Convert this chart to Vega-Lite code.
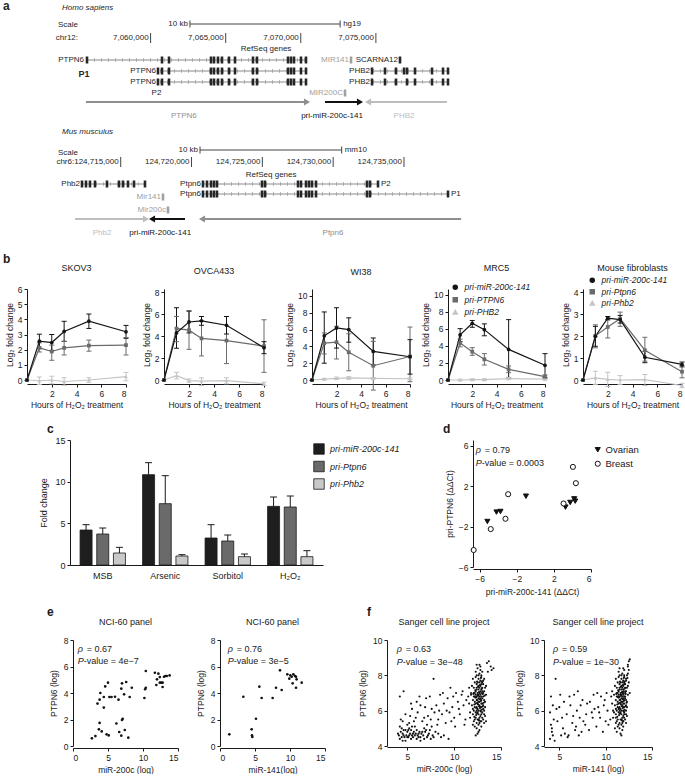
{
"$schema":"https://vega.github.io/schema/vega-lite/v6.json",
"padding":0,
"background":"white",
"config":{
 "font":"Liberation Sans",
 "view":{"stroke":null},
 "axis":{"domainColor":"#1a1a1a","tickColor":"#1a1a1a","labelColor":"#1a1a1a","titleColor":"#1a1a1a","labelFontSize":8.5,"titleFontSize":8.5,"titleFontWeight":"normal","tickSize":3,"labelPadding":2,"titlePadding":3,"grid":false,"domainWidth":1,"tickWidth":1,"labelFont":"Liberation Sans","titleFont":"Liberation Sans"},
 "title":{"font":"Liberation Sans","fontSize":9,"fontWeight":"normal","color":"#1a1a1a","offset":12},
 "legend":{"labelFont":"Liberation Sans","labelColor":"#1a1a1a"},
 "text":{"font":"Liberation Sans","fontSize":8,"color":"#1a1a1a"}
},
"datasets":{
 "hg_grid":[7055500,7056000,7056500,7057000,7057500,7058000,7058500,7059000,7059500,7060000,7060500,7061000,7061500,7062000,7062500,7063000,7063500,7064000,7064500,7065000,7065500,7066000,7066500,7067000,7067500,7068000,7068500,7069000,7069500,7070000,7070500,7071000,7071500,7072000,7072500,7073000,7073500,7074000,7074500,7075000,7075500,7076000,7076500,7077000,7077500,7078000,7078500,7079000,7079500],
 "mm_grid":[124712500,124713000,124713500,124714000,124714500,124715000,124715500,124716000,124716500,124717000,124717500,124718000,124718500,124719000,124719500,124720000,124720500,124721000,124721500,124722000,124722500,124723000,124723500,124724000,124724500,124725000,124725500,124726000,124726500,124727000,124727500,124728000,124728500,124729000,124729500,124730000,124730500,124731000,124731500,124732000,124732500,124733000,124733500,124734000,124734500,124735000,124735500,124736000,124736500,124737000,124737500,124738000,124738500,124739000],
 "hg_lines":[{"lane":4.0,"pos":7055766,"end":7070414},{"lane":5.1,"pos":7060626,"end":7070414},{"lane":6.2,"pos":7060626,"end":7070414},{"lane":5.1,"pos":7074809,"end":7079802},{"lane":6.2,"pos":7074809,"end":7079802}],
 "hg_exons":[
  {"lane":4.0,"pos":7055766,"cat":"gene"},
  {"lane":4.0,"pos":7060760,"cat":"gene"},{"lane":4.0,"pos":7061226,"cat":"gene"},{"lane":4.0,"pos":7064022,"cat":"gene"},{"lane":4.0,"pos":7064222,"cat":"gene"},{"lane":4.0,"pos":7064488,"cat":"gene"},{"lane":4.0,"pos":7064754,"cat":"gene"},{"lane":4.0,"pos":7065220,"cat":"gene"},{"lane":4.0,"pos":7065620,"cat":"gene"},{"lane":4.0,"pos":7066818,"cat":"gene"},{"lane":4.0,"pos":7067084,"cat":"gene"},{"lane":4.0,"pos":7069149,"cat":"gene"},{"lane":4.0,"pos":7069348,"cat":"gene"},{"lane":4.0,"pos":7069548,"cat":"gene"},{"lane":4.0,"pos":7070014,"cat":"gene"},{"lane":4.0,"pos":7070347,"cat":"gene"},
  {"lane":5.1,"pos":7060493,"cat":"gene"},{"lane":5.1,"pos":7060760,"cat":"gene"},{"lane":5.1,"pos":7061226,"cat":"gene"},{"lane":5.1,"pos":7064022,"cat":"gene"},{"lane":5.1,"pos":7064222,"cat":"gene"},{"lane":5.1,"pos":7064488,"cat":"gene"},{"lane":5.1,"pos":7064754,"cat":"gene"},{"lane":5.1,"pos":7065220,"cat":"gene"},{"lane":5.1,"pos":7065620,"cat":"gene"},{"lane":5.1,"pos":7066818,"cat":"gene"},{"lane":5.1,"pos":7067084,"cat":"gene"},{"lane":5.1,"pos":7069149,"cat":"gene"},{"lane":5.1,"pos":7069348,"cat":"gene"},{"lane":5.1,"pos":7069548,"cat":"gene"},{"lane":5.1,"pos":7070014,"cat":"gene"},{"lane":5.1,"pos":7070347,"cat":"gene"},
  {"lane":6.2,"pos":7060493,"cat":"gene"},{"lane":6.2,"pos":7060760,"cat":"gene"},{"lane":6.2,"pos":7061226,"cat":"gene"},{"lane":6.2,"pos":7064022,"cat":"gene"},{"lane":6.2,"pos":7064222,"cat":"gene"},{"lane":6.2,"pos":7064488,"cat":"gene"},{"lane":6.2,"pos":7064754,"cat":"gene"},{"lane":6.2,"pos":7065220,"cat":"gene"},{"lane":6.2,"pos":7065620,"cat":"gene"},{"lane":6.2,"pos":7066818,"cat":"gene"},{"lane":6.2,"pos":7067084,"cat":"gene"},{"lane":6.2,"pos":7069149,"cat":"gene"},{"lane":6.2,"pos":7069348,"cat":"gene"},{"lane":6.2,"pos":7069548,"cat":"gene"},{"lane":6.2,"pos":7070014,"cat":"gene"},{"lane":6.2,"pos":7070347,"cat":"gene"},
  {"lane":4.0,"pos":7073344,"cat":"mirna"},{"lane":7.3,"pos":7072944,"cat":"mirna"},{"lane":4.0,"pos":7076606,"cat":"gene"},
  {"lane":5.1,"pos":7074742,"cat":"gene"},{"lane":5.1,"pos":7075608,"cat":"gene"},{"lane":5.1,"pos":7076341,"cat":"gene"},{"lane":5.1,"pos":7076873,"cat":"gene"},{"lane":5.1,"pos":7077073,"cat":"gene"},{"lane":5.1,"pos":7077606,"cat":"gene"},{"lane":5.1,"pos":7078738,"cat":"gene"},{"lane":5.1,"pos":7079470,"cat":"gene"},{"lane":5.1,"pos":7079802,"cat":"gene"},
  {"lane":6.2,"pos":7074742,"cat":"gene"},{"lane":6.2,"pos":7075608,"cat":"gene"},{"lane":6.2,"pos":7076341,"cat":"gene"},{"lane":6.2,"pos":7077073,"cat":"gene"},{"lane":6.2,"pos":7077606,"cat":"gene"},{"lane":6.2,"pos":7078738,"cat":"gene"},{"lane":6.2,"pos":7079470,"cat":"gene"},{"lane":6.2,"pos":7079802,"cat":"gene"}
 ],
 "hg_scale":[{"lane":0.4,"pos":7062620,"end":7072620}],
 "hg_chr":[{"lane":1.8,"pos":7060000},{"lane":1.8,"pos":7065000},{"lane":1.8,"pos":7070000},{"lane":1.8,"pos":7075000}],
 "hg_arrows":[{"lane":8.2,"pos":7055700,"end":7070414,"cat":"host","dir":"right"},{"lane":8.2,"pos":7071612,"end":7073942,"cat":"primary","dir":"right"},{"lane":8.2,"pos":7079736,"end":7074476,"cat":"neighbor","dir":"left"}],
 "hg_text":[
  {"role":"panel","label":"a","pos":7050173,"lane":-1.4,"cat":"gene"},
  {"role":"species","label":"Homo sapiens","pos":7054102,"lane":-1.2,"cat":"gene"},
  {"role":"rulerR","label":"Scale","pos":7055300,"lane":0.5,"cat":"gene"},
  {"role":"rulerR","label":"chr12:","pos":7055300,"lane":1.8,"cat":"gene"},
  {"role":"rulerR","label":"10 kb","pos":7062620,"lane":0.4,"cat":"gene"},
  {"role":"rulerR","label":"7,060,000","pos":7060000,"lane":1.8,"cat":"gene"},
  {"role":"rulerR","label":"7,065,000","pos":7065000,"lane":1.8,"cat":"gene"},
  {"role":"rulerR","label":"7,070,000","pos":7070000,"lane":1.8,"cat":"gene"},
  {"role":"rulerR","label":"7,075,000","pos":7075000,"lane":1.8,"cat":"gene"},
  {"role":"rulerL","label":"hg19","pos":7072620,"lane":0.4,"cat":"gene"},
  {"role":"center","label":"RefSeq genes","pos":7067684,"lane":2.9,"cat":"gene"},
  {"role":"gene","label":"PTPN6","pos":7055700,"lane":4.0,"cat":"gene"},
  {"role":"gene","label":"PTPN6","pos":7060493,"lane":5.1,"cat":"gene"},
  {"role":"gene","label":"PTPN6","pos":7060493,"lane":6.2,"cat":"gene"},
  {"role":"gene","label":"MIR141","pos":7073344,"lane":4.0,"cat":"mirna"},
  {"role":"gene","label":"SCARNA12","pos":7076606,"lane":4.0,"cat":"gene"},
  {"role":"gene","label":"PHB2","pos":7074742,"lane":5.1,"cat":"gene"},
  {"role":"gene","label":"PHB2","pos":7074742,"lane":6.2,"cat":"gene"},
  {"role":"gene","label":"MIR200C","pos":7072944,"lane":7.3,"cat":"mirna"},
  {"role":"center","label":"PTPN6","pos":7062217,"lane":9.6,"cat":"host"},
  {"role":"center","label":"pri-miR-200c-141","pos":7072080,"lane":9.6,"cat":"primary"},
  {"role":"center","label":"PHB2","pos":7076872,"lane":9.6,"cat":"neighbor"},
  {"role":"promoter","label":"P1","pos":7055566,"lane":5.4,"cat":"gene"},
  {"role":"center","label":"P2","pos":7060393,"lane":7.3,"cat":"gene"}
 ],
 "mm_lines":[{"lane":16.4,"pos":124712268,"end":124716786},{"lane":16.4,"pos":124720810,"end":124733166},{"lane":17.4,"pos":124720810,"end":124738108}],
 "mm_exons":[
  {"lane":16.4,"pos":124712268,"cat":"gene"},{"lane":16.4,"pos":124712550,"cat":"gene"},{"lane":16.4,"pos":124712832,"cat":"gene"},{"lane":16.4,"pos":124713186,"cat":"gene"},{"lane":16.4,"pos":124714033,"cat":"gene"},{"lane":16.4,"pos":124714880,"cat":"gene"},{"lane":16.4,"pos":124715162,"cat":"gene"},{"lane":16.4,"pos":124715515,"cat":"gene"},{"lane":16.4,"pos":124715939,"cat":"gene"},{"lane":16.4,"pos":124716716,"cat":"gene"},
  {"lane":16.4,"pos":124720810,"cat":"gene"},{"lane":16.4,"pos":124721093,"cat":"gene"},{"lane":16.4,"pos":124721375,"cat":"gene"},{"lane":16.4,"pos":124721587,"cat":"gene"},{"lane":16.4,"pos":124721799,"cat":"gene"},{"lane":16.4,"pos":124724976,"cat":"gene"},{"lane":16.4,"pos":124725188,"cat":"gene"},{"lane":16.4,"pos":124727518,"cat":"gene"},{"lane":16.4,"pos":124727730,"cat":"gene"},{"lane":16.4,"pos":124728083,"cat":"gene"},{"lane":16.4,"pos":124728295,"cat":"gene"},{"lane":16.4,"pos":124728507,"cat":"gene"},{"lane":16.4,"pos":124728789,"cat":"gene"},{"lane":16.4,"pos":124732389,"cat":"gene"},{"lane":16.4,"pos":124732601,"cat":"gene"},{"lane":16.4,"pos":124733166,"cat":"gene"},
  {"lane":17.4,"pos":124720810,"cat":"gene"},{"lane":17.4,"pos":124721093,"cat":"gene"},{"lane":17.4,"pos":124721375,"cat":"gene"},{"lane":17.4,"pos":124721587,"cat":"gene"},{"lane":17.4,"pos":124721799,"cat":"gene"},{"lane":17.4,"pos":124724976,"cat":"gene"},{"lane":17.4,"pos":124725188,"cat":"gene"},{"lane":17.4,"pos":124727518,"cat":"gene"},{"lane":17.4,"pos":124727730,"cat":"gene"},{"lane":17.4,"pos":124728083,"cat":"gene"},{"lane":17.4,"pos":124728295,"cat":"gene"},{"lane":17.4,"pos":124728507,"cat":"gene"},{"lane":17.4,"pos":124728789,"cat":"gene"},{"lane":17.4,"pos":124732389,"cat":"gene"},{"lane":17.4,"pos":124732601,"cat":"gene"},{"lane":17.4,"pos":124738108,"cat":"gene"},
  {"lane":17.7,"pos":124717986,"cat":"mirna"},{"lane":19.0,"pos":124718339,"cat":"mirna"}
 ],
 "mm_scale":[{"lane":13.0,"pos":124720600,"end":124730600}],
 "mm_chr":[{"lane":14.2,"pos":124715000},{"lane":14.2,"pos":124720000},{"lane":14.2,"pos":124725000},{"lane":14.2,"pos":124730000},{"lane":14.2,"pos":124735000}],
 "mm_arrows":[{"lane":19.9,"pos":124711780,"end":124716786,"cat":"neighbor","dir":"right"},{"lane":19.9,"pos":124719540,"end":124717210,"cat":"primary","dir":"left"},{"lane":19.9,"pos":124739030,"end":124720740,"cat":"host","dir":"left"}],
 "mm_text":[
  {"role":"species","label":"Mus musculus","pos":124710856,"lane":11.2,"cat":"gene"},
  {"role":"rulerR","label":"Scale","pos":124712127,"lane":13.3,"cat":"gene"},
  {"role":"rulerR","label":"10 kb","pos":124720600,"lane":13.0,"cat":"gene"},
  {"role":"rulerR","label":"chr6:124,715,000","pos":124715000,"lane":14.2,"cat":"gene"},
  {"role":"rulerR","label":"124,720,000","pos":124720000,"lane":14.2,"cat":"gene"},
  {"role":"rulerR","label":"124,725,000","pos":124725000,"lane":14.2,"cat":"gene"},
  {"role":"rulerR","label":"124,730,000","pos":124730000,"lane":14.2,"cat":"gene"},
  {"role":"rulerR","label":"124,735,000","pos":124735000,"lane":14.2,"cat":"gene"},
  {"role":"rulerL","label":"mm10","pos":124730600,"lane":13.0,"cat":"gene"},
  {"role":"center","label":"RefSeq genes","pos":124725620,"lane":15.5,"cat":"gene"},
  {"role":"gene","label":"Phb2","pos":124712268,"lane":16.4,"cat":"gene"},
  {"role":"gene","label":"Mir141","pos":124717986,"lane":17.7,"cat":"mirna"},
  {"role":"gene","label":"Mir200c","pos":124718339,"lane":19.0,"cat":"mirna"},
  {"role":"gene","label":"Ptpn6","pos":124720810,"lane":16.4,"cat":"gene"},
  {"role":"gene","label":"Ptpn6","pos":124720810,"lane":17.4,"cat":"gene"},
  {"role":"rulerL","label":"P2","pos":124733166,"lane":16.4,"cat":"gene"},
  {"role":"rulerL","label":"P1","pos":124738108,"lane":17.4,"cat":"gene"},
  {"role":"center","label":"Phb2","pos":124713680,"lane":21.3,"cat":"neighbor"},
  {"role":"center","label":"pri-miR-200c-141","pos":124717790,"lane":21.3,"cat":"primary"},
  {"role":"center","label":"Ptpn6","pos":124729990,"lane":21.3,"cat":"host"}
 ],
 "bdata":[
  {"cell":"SKOV3","s":"pri-PHB2","t":0,"v":0},{"cell":"SKOV3","s":"pri-PHB2","t":1,"v":-0.05,"lo":-0.3,"hi":0.2},{"cell":"SKOV3","s":"pri-PHB2","t":2,"v":0.0,"lo":-0.25,"hi":0.25},{"cell":"SKOV3","s":"pri-PHB2","t":3,"v":-0.1,"lo":-0.35,"hi":0.15},{"cell":"SKOV3","s":"pri-PHB2","t":5,"v":0.0,"lo":-0.15,"hi":0.15},{"cell":"SKOV3","s":"pri-PHB2","t":8,"v":0.22,"lo":-0.05,"hi":0.5},
  {"cell":"SKOV3","s":"pri-PTPN6","t":0,"v":0},{"cell":"SKOV3","s":"pri-PTPN6","t":1,"v":2.12,"lo":1.85,"hi":2.45},{"cell":"SKOV3","s":"pri-PTPN6","t":2,"v":1.88,"lo":1.3,"hi":2.3},{"cell":"SKOV3","s":"pri-PTPN6","t":3,"v":2.12,"lo":1.65,"hi":2.55},{"cell":"SKOV3","s":"pri-PTPN6","t":5,"v":2.27,"lo":1.9,"hi":2.63},{"cell":"SKOV3","s":"pri-PTPN6","t":8,"v":2.3,"lo":1.65,"hi":2.8},
  {"cell":"SKOV3","s":"pri-miR-200c-141","t":0,"v":0},{"cell":"SKOV3","s":"pri-miR-200c-141","t":1,"v":2.56,"lo":2.1,"hi":3.02},{"cell":"SKOV3","s":"pri-miR-200c-141","t":2,"v":2.47,"lo":1.95,"hi":3.0},{"cell":"SKOV3","s":"pri-miR-200c-141","t":3,"v":3.2,"lo":2.55,"hi":3.87},{"cell":"SKOV3","s":"pri-miR-200c-141","t":5,"v":3.88,"lo":3.4,"hi":4.35},{"cell":"SKOV3","s":"pri-miR-200c-141","t":8,"v":3.18,"lo":2.75,"hi":3.6},
  {"cell":"OVCA433","s":"pri-PHB2","t":0,"v":0},{"cell":"OVCA433","s":"pri-PHB2","t":1,"v":0.4,"lo":0.1,"hi":0.7},{"cell":"OVCA433","s":"pri-PHB2","t":2,"v":-0.05,"lo":-0.2,"hi":0.1},{"cell":"OVCA433","s":"pri-PHB2","t":3,"v":-0.1,"lo":-0.5,"hi":0.2},{"cell":"OVCA433","s":"pri-PHB2","t":5,"v":-0.05,"lo":-0.35,"hi":0.2},{"cell":"OVCA433","s":"pri-PHB2","t":8,"v":-0.35,"lo":-0.5,"hi":-0.2},
  {"cell":"OVCA433","s":"pri-PTPN6","t":0,"v":0},{"cell":"OVCA433","s":"pri-PTPN6","t":1,"v":4.7,"lo":3.5,"hi":5.8},{"cell":"OVCA433","s":"pri-PTPN6","t":2,"v":4.55,"lo":2.8,"hi":6.3},{"cell":"OVCA433","s":"pri-PTPN6","t":3,"v":3.8,"lo":2.2,"hi":5.4},{"cell":"OVCA433","s":"pri-PTPN6","t":5,"v":3.6,"lo":1.5,"hi":5.8},{"cell":"OVCA433","s":"pri-PTPN6","t":8,"v":3.1,"lo":0.7,"hi":5.5},
  {"cell":"OVCA433","s":"pri-miR-200c-141","t":0,"v":0},{"cell":"OVCA433","s":"pri-miR-200c-141","t":1,"v":4.3,"lo":2.9,"hi":6.6},{"cell":"OVCA433","s":"pri-miR-200c-141","t":2,"v":5.3,"lo":4.3,"hi":6.3},{"cell":"OVCA433","s":"pri-miR-200c-141","t":3,"v":5.4,"lo":5.0,"hi":5.8},{"cell":"OVCA433","s":"pri-miR-200c-141","t":5,"v":5.0,"lo":4.2,"hi":5.8},{"cell":"OVCA433","s":"pri-miR-200c-141","t":8,"v":2.95,"lo":2.4,"hi":3.5},
  {"cell":"WI38","s":"pri-PHB2","t":0,"v":0},{"cell":"WI38","s":"pri-PHB2","t":1,"v":0.1,"lo":0.0,"hi":0.2},{"cell":"WI38","s":"pri-PHB2","t":2,"v":0.2,"lo":0.05,"hi":0.35},{"cell":"WI38","s":"pri-PHB2","t":3,"v":0.25,"lo":0.1,"hi":0.4},{"cell":"WI38","s":"pri-PHB2","t":5,"v":0.2,"lo":0.1,"hi":0.3},{"cell":"WI38","s":"pri-PHB2","t":8,"v":0.15,"lo":0.05,"hi":0.25},
  {"cell":"WI38","s":"pri-PTPN6","t":0,"v":0},{"cell":"WI38","s":"pri-PTPN6","t":1,"v":4.39,"lo":3.1,"hi":5.6},{"cell":"WI38","s":"pri-PTPN6","t":2,"v":4.5,"lo":2.5,"hi":6.4},{"cell":"WI38","s":"pri-PTPN6","t":3,"v":3.3,"lo":1.1,"hi":5.5},{"cell":"WI38","s":"pri-PTPN6","t":5,"v":1.7,"lo":-1.2,"hi":4.6},{"cell":"WI38","s":"pri-PTPN6","t":8,"v":2.8,"lo":-0.2,"hi":6.3},
  {"cell":"WI38","s":"pri-miR-200c-141","t":0,"v":0},{"cell":"WI38","s":"pri-miR-200c-141","t":1,"v":5.26,"lo":2.0,"hi":8.1},{"cell":"WI38","s":"pri-miR-200c-141","t":2,"v":6.2,"lo":3.8,"hi":8.6},{"cell":"WI38","s":"pri-miR-200c-141","t":3,"v":6.0,"lo":4.5,"hi":7.4},{"cell":"WI38","s":"pri-miR-200c-141","t":5,"v":3.4,"lo":1.8,"hi":5.0},{"cell":"WI38","s":"pri-miR-200c-141","t":8,"v":2.77,"lo":0.7,"hi":4.8},
  {"cell":"MRC5","s":"pri-PHB2","t":0,"v":0},{"cell":"MRC5","s":"pri-PHB2","t":1,"v":0.0,"lo":-0.1,"hi":0.1},{"cell":"MRC5","s":"pri-PHB2","t":2,"v":0.05,"lo":-0.05,"hi":0.15},{"cell":"MRC5","s":"pri-PHB2","t":3,"v":0.05,"lo":-0.05,"hi":0.15},{"cell":"MRC5","s":"pri-PHB2","t":5,"v":0.15,"lo":0.05,"hi":0.3},{"cell":"MRC5","s":"pri-PHB2","t":8,"v":0.1,"lo":0.0,"hi":0.2},
  {"cell":"MRC5","s":"pri-PTPN6","t":0,"v":0},{"cell":"MRC5","s":"pri-PTPN6","t":1,"v":4.35,"lo":3.9,"hi":4.8},{"cell":"MRC5","s":"pri-PTPN6","t":2,"v":3.33,"lo":2.9,"hi":3.8},{"cell":"MRC5","s":"pri-PTPN6","t":3,"v":2.43,"lo":1.76,"hi":3.1},{"cell":"MRC5","s":"pri-PTPN6","t":5,"v":1.25,"lo":0.86,"hi":1.65},{"cell":"MRC5","s":"pri-PTPN6","t":8,"v":0.39,"lo":0.16,"hi":0.6},
  {"cell":"MRC5","s":"pri-miR-200c-141","t":0,"v":0},{"cell":"MRC5","s":"pri-miR-200c-141","t":1,"v":5.3,"lo":4.5,"hi":6.04},{"cell":"MRC5","s":"pri-miR-200c-141","t":2,"v":6.67,"lo":6.2,"hi":7.0},{"cell":"MRC5","s":"pri-miR-200c-141","t":3,"v":5.92,"lo":5.2,"hi":6.6},{"cell":"MRC5","s":"pri-miR-200c-141","t":5,"v":3.6,"lo":0.3,"hi":7.1},{"cell":"MRC5","s":"pri-miR-200c-141","t":8,"v":1.73,"lo":0.3,"hi":3.1},
  {"cell":"Mouse","s":"pri-Phb2","t":0,"v":0},{"cell":"Mouse","s":"pri-Phb2","t":1,"v":0.1,"lo":-0.2,"hi":0.4},{"cell":"Mouse","s":"pri-Phb2","t":2,"v":0.03,"lo":-0.3,"hi":0.35},{"cell":"Mouse","s":"pri-Phb2","t":3,"v":0.0,"lo":-0.2,"hi":0.2},{"cell":"Mouse","s":"pri-Phb2","t":5,"v":0.02,"lo":-0.25,"hi":0.25},{"cell":"Mouse","s":"pri-Phb2","t":8,"v":-0.25,"lo":-0.35,"hi":-0.15},
  {"cell":"Mouse","s":"pri-Ptpn6","t":0,"v":0},{"cell":"Mouse","s":"pri-Ptpn6","t":1,"v":2.02,"lo":1.47,"hi":2.52},{"cell":"Mouse","s":"pri-Ptpn6","t":2,"v":2.42,"lo":1.92,"hi":2.75},{"cell":"Mouse","s":"pri-Ptpn6","t":3,"v":2.8,"lo":2.45,"hi":3.1},{"cell":"Mouse","s":"pri-Ptpn6","t":5,"v":1.36,"lo":0.86,"hi":1.95},{"cell":"Mouse","s":"pri-Ptpn6","t":8,"v":0.38,"lo":0.1,"hi":0.66},
  {"cell":"Mouse","s":"pri-miR-200c-141","t":0,"v":0},{"cell":"Mouse","s":"pri-miR-200c-141","t":1,"v":2.0,"lo":1.54,"hi":2.45},{"cell":"Mouse","s":"pri-miR-200c-141","t":2,"v":2.82,"lo":2.75,"hi":2.9},{"cell":"Mouse","s":"pri-miR-200c-141","t":3,"v":2.76,"lo":2.6,"hi":2.95},{"cell":"Mouse","s":"pri-miR-200c-141","t":5,"v":1.04,"lo":0.79,"hi":1.31},{"cell":"Mouse","s":"pri-miR-200c-141","t":8,"v":0.71,"lo":0.6,"hi":0.82}
 ],
 "cdata":[
  {"treat":"MSB","s":"pri-miR-200c-141","v":4.2,"err":4.84},{"treat":"MSB","s":"pri-Ptpn6","v":3.72,"err":4.44},{"treat":"MSB","s":"pri-Phb2","v":1.44,"err":2.12},
  {"treat":"Arsenic","s":"pri-miR-200c-141","v":10.84,"err":12.28},{"treat":"Arsenic","s":"pri-Ptpn6","v":7.36,"err":10.72},{"treat":"Arsenic","s":"pri-Phb2","v":1.08,"err":1.24},
  {"treat":"Sorbitol","s":"pri-miR-200c-141","v":3.24,"err":4.84},{"treat":"Sorbitol","s":"pri-Ptpn6","v":2.88,"err":3.6},{"treat":"Sorbitol","s":"pri-Phb2","v":1.0,"err":1.32},
  {"treat":"H₂O₂","s":"pri-miR-200c-141","v":7.04,"err":8.16},{"treat":"H₂O₂","s":"pri-Ptpn6","v":6.96,"err":8.28},{"treat":"H₂O₂","s":"pri-Phb2","v":1.0,"err":1.72}
 ],
 "ddata":[
  {"x":-5.17,"y":-1.5,"type":"Ovarian"},{"x":-4.19,"y":-0.57,"type":"Ovarian"},{"x":-3.76,"y":-0.51,"type":"Ovarian"},{"x":-1.01,"y":1.0,"type":"Ovarian"},{"x":3.25,"y":-0.08,"type":"Ovarian"},{"x":3.76,"y":0.38,"type":"Ovarian"},{"x":4.19,"y":0.74,"type":"Ovarian"},{"x":4.3,"y":0.51,"type":"Ovarian"},
  {"x":-6.65,"y":-4.32,"type":"Breast"},{"x":-4.81,"y":-2.25,"type":"Breast"},{"x":-3.22,"y":-1.23,"type":"Breast"},{"x":-2.93,"y":1.2,"type":"Breast"},{"x":3.04,"y":0.28,"type":"Breast"},{"x":4.05,"y":3.9,"type":"Breast"},{"x":4.37,"y":2.29,"type":"Breast"}
 ],
 "e1":[{"x":2.7,"y":0.58},{"x":3.2,"y":0.75},{"x":3.5,"y":3.2},{"x":3.8,"y":3.5},{"x":3.9,"y":4.0},{"x":3.8,"y":1.74},{"x":3.7,"y":1.26},{"x":4.1,"y":1.1},{"x":4.4,"y":3.7},{"x":4.4,"y":2.9},{"x":4.6,"y":4.5},{"x":4.8,"y":0.88},{"x":5.0,"y":4.78},{"x":5.1,"y":0.8},{"x":5.2,"y":3.7},{"x":5.5,"y":3.7},{"x":6.0,"y":3.72},{"x":6.2,"y":1.7},{"x":6.5,"y":3.5},{"x":6.6,"y":1.06},{"x":6.9,"y":4.33},{"x":7.0,"y":4.73},{"x":7.0,"y":1.96},{"x":7.1,"y":2.06},{"x":6.9,"y":0.78},{"x":7.3,"y":3.9},{"x":7.4,"y":1.21},{"x":7.6,"y":4.83},{"x":7.9,"y":0.63},{"x":8.1,"y":3.7},{"x":8.4,"y":4.4},{"x":10.2,"y":3.62},{"x":10.3,"y":4.28},{"x":10.4,"y":4.4},{"x":10.4,"y":5.66},{"x":11.7,"y":5.53},{"x":11.9,"y":4.6},{"x":12.0,"y":5.03},{"x":12.2,"y":5.46},{"x":12.4,"y":4.78},{"x":12.6,"y":4.78},{"x":12.8,"y":4.78},{"x":12.8,"y":4.45},{"x":13.0,"y":5.23},{"x":13.2,"y":5.28},{"x":13.4,"y":5.28},{"x":13.8,"y":5.33},{"x":12.4,"y":5.2}],
 "e2":[{"x":1.33,"y":0.88},{"x":3.33,"y":3.72},{"x":4.52,"y":1.26},{"x":4.57,"y":0.8},{"x":4.62,"y":0.68},{"x":5.14,"y":2.06},{"x":5.62,"y":4.48},{"x":5.95,"y":3.62},{"x":7.52,"y":3.62},{"x":8.0,"y":4.4},{"x":8.57,"y":5.71},{"x":8.81,"y":4.23},{"x":9.62,"y":5.41},{"x":9.9,"y":5.08},{"x":10.05,"y":5.33},{"x":10.24,"y":5.23},{"x":10.38,"y":4.73},{"x":10.48,"y":5.41},{"x":10.71,"y":5.28},{"x":10.86,"y":4.4},{"x":10.95,"y":5.03},{"x":11.67,"y":4.78},{"x":10.86,"y":5.23}],
 "f1":[{"x":12.1,"y":6.8},{"x":12.4,"y":7.2},{"x":12.7,"y":6.5},{"x":12.9,"y":7.9},{"x":13.1,"y":6.1},{"x":12.3,"y":5.6},{"x":12.6,"y":7.4},{"x":12.8,"y":6.9},{"x":13.0,"y":7.1},{"x":12.2,"y":7.6},{"x":11.9,"y":6.3},{"x":12.5,"y":5.9},{"x":13.2,"y":6.6},{"x":12.7,"y":8.1},{"x":12.4,"y":6.2},{"x":12.9,"y":5.4},{"x":13.3,"y":7.3},{"x":12.0,"y":5.8},{"x":12.6,"y":6.7},{"x":12.8,"y":7.7},{"x":12.3,"y":6.9},{"x":13.1,"y":7.5},{"x":12.5,"y":7.0},{"x":12.9,"y":6.4},{"x":12.1,"y":7.3},{"x":12.7,"y":5.6},{"x":13.4,"y":6.9},{"x":12.4,"y":8.0},{"x":12.2,"y":6.5},{"x":13.0,"y":5.9},{"x":12.6,"y":6.0},{"x":12.8,"y":8.3},{"x":11.8,"y":6.9},{"x":12.9,"y":7.2},{"x":12.5,"y":6.4},{"x":13.2,"y":7.8},{"x":12.3,"y":7.9},{"x":12.7,"y":7.0},{"x":13.1,"y":5.5},{"x":12.0,"y":6.6},{"x":12.6,"y":7.8},{"x":12.4,"y":5.3},{"x":12.9,"y":6.8},{"x":13.3,"y":6.2},{"x":12.2,"y":5.1},{"x":12.8,"y":6.2},{"x":12.5,"y":8.4},{"x":13.0,"y":6.7},{"x":12.7,"y":6.3},{"x":12.1,"y":6.0},{"x":12.9,"y":8.0},{"x":12.4,"y":6.6},{"x":13.2,"y":5.8},{"x":12.6,"y":5.2},{"x":12.3,"y":7.1},{"x":13.1,"y":7.0},{"x":12.8,"y":5.7},{"x":12.5,"y":6.9},{"x":11.9,"y":7.4},{"x":13.0,"y":7.6},{"x":12.6,"y":6.5},{"x":12.7,"y":4.9},{"x":12.2,"y":7.0},{"x":13.3,"y":6.5},{"x":12.4,"y":7.5},{"x":12.9,"y":5.1},{"x":12.0,"y":7.8},{"x":12.8,"y":7.4},{"x":12.5,"y":5.5},{"x":13.1,"y":6.3},{"x":12.6,"y":7.2},{"x":12.3,"y":5.9},{"x":13.0,"y":8.2},{"x":12.7,"y":7.6},{"x":12.1,"y":5.4},{"x":12.9,"y":6.6},{"x":12.4,"y":6.8},{"x":13.2,"y":7.1},{"x":12.6,"y":5.8},{"x":12.8,"y":6.0},{"x":11.7,"y":5.6},{"x":12.5,"y":7.6},{"x":13.4,"y":7.4},{"x":12.2,"y":6.2},{"x":12.9,"y":7.0},{"x":12.7,"y":5.3},{"x":12.3,"y":6.4},{"x":13.0,"y":6.4},{"x":12.6,"y":8.0},{"x":12.4,"y":5.0},{"x":12.8,"y":6.7},{"x":13.1,"y":6.8},{"x":12.0,"y":6.1},{"x":12.5,"y":6.1},{"x":12.9,"y":7.5},{"x":12.7,"y":6.8},{"x":13.3,"y":5.7},{"x":12.2,"y":5.5},{"x":12.6,"y":6.9},{"x":12.8,"y":5.4},{"x":12.4,"y":7.3},{"x":13.0,"y":5.6},{"x":12.3,"y":8.2},{"x":12.9,"y":6.2},{"x":12.5,"y":4.7},{"x":13.2,"y":6.0},{"x":12.1,"y":7.0},{"x":12.7,"y":7.3},{"x":12.6,"y":5.5},{"x":13.0,"y":7.3},{"x":12.4,"y":6.0},{"x":12.8,"y":7.1},{"x":11.6,"y":6.4},{"x":12.2,"y":6.8},{"x":12.9,"y":5.8},{"x":13.1,"y":7.7},{"x":12.5,"y":6.6},{"x":12.7,"y":8.6},{"x":13.5,"y":8.7},{"x":13.7,"y":8.8},{"x":13.9,"y":8.5},{"x":14.2,"y":8.4},{"x":13.6,"y":8.2},{"x":14.0,"y":8.3},{"x":12.3,"y":4.6},{"x":13.4,"y":5.4},{"x":12.0,"y":5.2},{"x":11.8,"y":7.0},{"x":12.6,"y":4.8},{"x":13.2,"y":5.3},{"x":12.8,"y":8.5},{"x":12.4,"y":8.6},{"x":11.5,"y":6.8},{"x":11.7,"y":5.9},{"x":11.6,"y":7.3},
  {"x":12.35,"y":6.75},{"x":12.65,"y":7.05},{"x":12.85,"y":6.55},{"x":12.15,"y":6.35},{"x":12.55,"y":7.35},{"x":13.05,"y":6.95},{"x":12.75,"y":6.15},{"x":12.45,"y":6.45},{"x":12.95,"y":7.25},{"x":12.25,"y":7.15},{"x":12.65,"y":6.25},{"x":13.15,"y":6.45},{"x":12.35,"y":5.75},{"x":12.85,"y":5.95},{"x":12.55,"y":6.85},{"x":12.05,"y":6.95},{"x":12.75,"y":7.45},{"x":13.25,"y":6.85},{"x":12.45,"y":7.65},{"x":12.95,"y":6.05},{"x":12.15,"y":5.65},{"x":12.65,"y":5.45},{"x":12.85,"y":7.85},{"x":12.35,"y":6.15},{"x":13.05,"y":6.25},{"x":12.55,"y":6.35},{"x":12.75,"y":6.65},{"x":12.25,"y":6.75},{"x":12.95,"y":7.65},{"x":12.45,"y":5.85},
  {"x":4.1,"y":4.6},{"x":4.3,"y":4.8},{"x":4.2,"y":4.4},{"x":4.5,"y":4.7},{"x":4.4,"y":5.0},{"x":4.7,"y":4.5},{"x":4.6,"y":4.9},{"x":4.9,"y":4.6},{"x":4.8,"y":4.3},{"x":5.0,"y":4.8},{"x":5.1,"y":4.5},{"x":5.3,"y":4.7},{"x":5.2,"y":5.0},{"x":5.5,"y":4.6},{"x":5.4,"y":4.4},{"x":5.7,"y":4.8},{"x":5.6,"y":4.5},{"x":5.9,"y":4.7},{"x":5.8,"y":5.1},{"x":6.1,"y":4.6},{"x":6.0,"y":4.4},{"x":6.3,"y":4.8},{"x":6.2,"y":4.5},{"x":6.5,"y":4.7},{"x":6.4,"y":4.3},{"x":6.7,"y":4.6},{"x":6.9,"y":4.8},{"x":7.1,"y":4.5},{"x":7.0,"y":4.9},{"x":7.3,"y":4.7},{"x":7.5,"y":4.4},{"x":7.7,"y":4.6},{"x":8.0,"y":4.8},{"x":4.2,"y":5.1},{"x":4.4,"y":4.5},{"x":4.6,"y":4.6},{"x":4.8,"y":4.9},{"x":5.0,"y":4.5},{"x":5.2,"y":4.6},{"x":5.4,"y":4.9},{"x":5.6,"y":4.7},{"x":5.8,"y":4.6},{"x":6.0,"y":4.9},{"x":6.2,"y":4.7},{"x":6.4,"y":4.5},{"x":6.6,"y":4.8},{"x":6.8,"y":4.4},{"x":7.2,"y":4.6},{"x":7.4,"y":4.9},{"x":7.8,"y":4.5},{"x":8.3,"y":4.7},{"x":8.6,"y":4.5},{"x":4.0,"y":4.7},{"x":4.5,"y":4.3},{"x":5.1,"y":4.9},{"x":5.5,"y":5.1},{"x":6.8,"y":5.0},{"x":7.6,"y":5.1},{"x":8.9,"y":4.6},{"x":9.4,"y":4.4},
  {"x":4.2,"y":6.8},{"x":4.6,"y":7.1},{"x":4.3,"y":5.5},{"x":4.8,"y":5.8},{"x":5.2,"y":5.3},{"x":5.5,"y":6.1},{"x":5.9,"y":5.6},{"x":5.4,"y":6.4},{"x":6.1,"y":5.9},{"x":6.3,"y":6.8},{"x":6.6,"y":5.4},{"x":6.9,"y":6.2},{"x":7.2,"y":5.7},{"x":7.4,"y":6.8},{"x":7.1,"y":5.2},{"x":7.8,"y":7.8},{"x":7.9,"y":5.9},{"x":8.1,"y":6.3},{"x":8.3,"y":5.5},{"x":8.5,"y":6.9},{"x":8.7,"y":5.8},{"x":8.9,"y":6.4},{"x":9.1,"y":5.3},{"x":9.3,"y":6.7},{"x":9.6,"y":7.3},{"x":9.5,"y":5.9},{"x":9.8,"y":6.2},{"x":10.0,"y":5.6},{"x":10.2,"y":7.0},{"x":10.4,"y":6.5},{"x":10.1,"y":5.1},{"x":10.6,"y":5.8},{"x":10.8,"y":6.9},{"x":11.0,"y":6.3},{"x":11.2,"y":5.5},{"x":10.9,"y":7.1},{"x":11.3,"y":6.6},{"x":9.9,"y":6.8},{"x":8.8,"y":7.0},{"x":7.6,"y":6.1},{"x":6.8,"y":5.6},{"x":5.7,"y":5.4},{"x":5.0,"y":5.2},{"x":4.5,"y":5.4},{"x":6.4,"y":6.3},{"x":7.0,"y":6.7},{"x":8.2,"y":5.2},{"x":9.7,"y":5.4},{"x":10.5,"y":6.1},{"x":11.1,"y":5.2},{"x":8.4,"y":6.0},{"x":9.2,"y":6.0},{"x":6.0,"y":6.5},{"x":5.3,"y":5.7},{"x":7.5,"y":5.5}],
 "f2":[{"x":11.2,"y":6.8},{"x":11.5,"y":7.2},{"x":11.8,"y":6.5},{"x":12.0,"y":7.9},{"x":11.4,"y":6.1},{"x":11.1,"y":5.6},{"x":11.7,"y":7.4},{"x":11.9,"y":6.9},{"x":12.1,"y":7.1},{"x":11.3,"y":7.6},{"x":11.0,"y":6.3},{"x":11.6,"y":5.9},{"x":12.2,"y":6.6},{"x":11.8,"y":8.1},{"x":11.5,"y":6.2},{"x":11.9,"y":5.4},{"x":12.3,"y":7.3},{"x":11.1,"y":5.8},{"x":11.7,"y":6.7},{"x":11.9,"y":7.7},{"x":11.4,"y":6.9},{"x":12.1,"y":7.5},{"x":11.6,"y":7.0},{"x":11.9,"y":6.4},{"x":11.2,"y":7.3},{"x":11.8,"y":5.6},{"x":12.4,"y":8.1},{"x":11.5,"y":8.0},{"x":11.3,"y":6.5},{"x":12.0,"y":5.9},{"x":11.7,"y":6.0},{"x":12.0,"y":8.3},{"x":10.9,"y":6.9},{"x":11.9,"y":7.2},{"x":11.6,"y":6.4},{"x":12.2,"y":7.8},{"x":11.4,"y":7.9},{"x":11.8,"y":7.0},{"x":12.1,"y":5.5},{"x":11.1,"y":6.6},{"x":11.7,"y":7.8},{"x":11.5,"y":5.3},{"x":12.0,"y":6.8},{"x":12.3,"y":6.2},{"x":11.3,"y":5.1},{"x":11.9,"y":6.2},{"x":12.4,"y":8.5},{"x":12.1,"y":6.7},{"x":11.8,"y":6.3},{"x":11.2,"y":6.0},{"x":12.0,"y":8.0},{"x":11.5,"y":6.6},{"x":12.2,"y":5.8},{"x":11.7,"y":5.2},{"x":11.4,"y":7.1},{"x":12.1,"y":7.0},{"x":11.9,"y":5.7},{"x":11.6,"y":6.9},{"x":11.0,"y":7.4},{"x":12.0,"y":7.6},{"x":11.7,"y":6.5},{"x":11.8,"y":4.9},{"x":11.3,"y":7.0},{"x":12.3,"y":6.5},{"x":11.5,"y":7.5},{"x":11.9,"y":5.1},{"x":11.1,"y":7.8},{"x":11.9,"y":7.4},{"x":11.6,"y":5.5},{"x":12.2,"y":6.3},{"x":11.7,"y":7.2},{"x":11.4,"y":5.9},{"x":12.5,"y":8.8},{"x":11.8,"y":7.6},{"x":11.2,"y":5.4},{"x":12.0,"y":6.6},{"x":11.5,"y":6.8},{"x":12.2,"y":7.1},{"x":11.7,"y":5.8},{"x":11.9,"y":6.0},{"x":10.8,"y":5.6},{"x":11.6,"y":7.6},{"x":12.4,"y":7.4},{"x":11.3,"y":6.2},{"x":11.9,"y":7.0},{"x":11.8,"y":5.3},{"x":11.4,"y":6.4},{"x":12.0,"y":6.4},{"x":11.7,"y":8.0},{"x":11.5,"y":5.0},{"x":11.9,"y":6.7},{"x":12.1,"y":6.8},{"x":11.1,"y":6.1},{"x":11.6,"y":6.1},{"x":12.0,"y":7.5},{"x":11.8,"y":6.8},{"x":12.3,"y":5.7},{"x":11.3,"y":5.5},{"x":11.7,"y":6.9},{"x":11.9,"y":5.4},{"x":11.5,"y":7.3},{"x":12.0,"y":5.6},{"x":11.4,"y":8.2},{"x":12.0,"y":6.2},{"x":11.6,"y":4.7},{"x":12.2,"y":6.0},{"x":11.2,"y":7.0},{"x":11.8,"y":7.3},{"x":11.7,"y":5.5},{"x":12.1,"y":7.3},{"x":11.5,"y":6.0},{"x":11.9,"y":7.1},{"x":10.7,"y":6.4},{"x":11.3,"y":6.8},{"x":12.0,"y":5.8},{"x":12.2,"y":7.7},{"x":11.6,"y":6.6},{"x":12.4,"y":8.6},{"x":12.5,"y":8.3},{"x":12.6,"y":8.9},{"x":12.3,"y":8.0},{"x":11.4,"y":5.2},{"x":11.1,"y":5.3},{"x":10.9,"y":5.9},{"x":11.7,"y":4.6},{"x":12.2,"y":5.3},{"x":11.9,"y":8.4},{"x":11.5,"y":8.4},{"x":10.6,"y":6.8},{"x":10.8,"y":6.0},{"x":10.7,"y":7.1},{"x":11.0,"y":5.0},{"x":12.6,"y":7.0},{"x":12.4,"y":6.9},{"x":12.5,"y":7.6},{"x":11.2,"y":4.8},{"x":10.5,"y":5.5},
  {"x":11.45,"y":6.75},{"x":11.75,"y":7.05},{"x":11.95,"y":6.55},{"x":11.25,"y":6.35},{"x":11.65,"y":7.35},{"x":12.15,"y":6.95},{"x":11.85,"y":6.15},{"x":11.55,"y":6.45},{"x":12.05,"y":7.25},{"x":11.35,"y":7.15},{"x":11.75,"y":6.25},{"x":12.25,"y":6.45},{"x":11.45,"y":5.75},{"x":11.95,"y":5.95},{"x":11.65,"y":6.85},{"x":11.15,"y":6.95},{"x":11.85,"y":7.45},{"x":12.35,"y":7.85},{"x":11.55,"y":7.65},{"x":12.05,"y":6.05},{"x":11.25,"y":5.65},{"x":11.75,"y":5.45},{"x":11.95,"y":7.85},{"x":11.45,"y":6.15},{"x":12.15,"y":6.25},{"x":11.65,"y":6.35},{"x":11.85,"y":6.65},{"x":11.35,"y":6.75},{"x":12.05,"y":7.65},{"x":11.55,"y":5.85},
  {"x":4.0,"y":4.4},{"x":4.1,"y":5.2},{"x":4.2,"y":4.8},{"x":4.0,"y":5.9},{"x":4.3,"y":6.3},{"x":4.1,"y":6.8},{"x":4.2,"y":5.0},{"x":4.3,"y":4.6},{"x":4.6,"y":7.8},{"x":4.5,"y":4.3},{"x":4.8,"y":5.4},{"x":5.0,"y":6.2},{"x":5.2,"y":4.6},{"x":5.4,"y":5.0},{"x":5.1,"y":6.9},{"x":5.6,"y":4.7},{"x":5.8,"y":5.8},{"x":5.5,"y":6.5},{"x":6.0,"y":4.6},{"x":6.2,"y":6.3},{"x":6.4,"y":5.3},{"x":6.1,"y":6.8},{"x":6.7,"y":4.9},{"x":6.9,"y":6.0},{"x":7.0,"y":7.1},{"x":6.6,"y":6.9},{"x":7.2,"y":5.6},{"x":7.4,"y":4.8},{"x":7.5,"y":6.6},{"x":7.3,"y":6.3},{"x":7.8,"y":5.2},{"x":8.0,"y":6.4},{"x":7.9,"y":5.8},{"x":8.3,"y":6.5},{"x":8.5,"y":5.9},{"x":8.2,"y":4.9},{"x":8.7,"y":6.9},{"x":9.0,"y":5.1},{"x":9.2,"y":6.2},{"x":9.1,"y":7.0},{"x":9.4,"y":5.6},{"x":9.7,"y":4.8},{"x":9.8,"y":6.3},{"x":9.5,"y":6.8},{"x":10.0,"y":5.4},{"x":10.2,"y":6.0},{"x":10.1,"y":7.0},{"x":10.3,"y":5.2},{"x":9.3,"y":5.9},{"x":8.8,"y":6.1},{"x":6.5,"y":5.7},{"x":5.3,"y":5.6},{"x":4.4,"y":5.5},{"x":4.7,"y":6.1},{"x":7.6,"y":5.4},{"x":8.6,"y":5.6},{"x":5.9,"y":4.5},{"x":6.8,"y":5.1},{"x":7.1,"y":4.6},{"x":9.9,"y":6.6}]
},
"vconcat":[
 {"hconcat":[
  {"width":80,"height":1,"data":{"values":[]},"mark":"point"},
  {"width":382,"height":207,
   "layer":[
    {"encoding":{
      "x":{"field":"pos","type":"quantitative","scale":{"domain":[7055300,7080734],"nice":false,"zero":false},"axis":null},
      "y":{"field":"lane","type":"quantitative","scale":{"domain":[0,20.7],"reverse":true,"nice":false,"zero":false},"axis":null}
     },
     "layer":[
      {"data":{"name":"hg_grid"},"mark":{"type":"rule","color":"#dedede","strokeWidth":0.8},"encoding":{"x":{"field":"data","type":"quantitative"},"y":{"datum":0},"y2":{"datum":8}}},
      {"data":{"name":"hg_lines"},"mark":{"type":"rule","color":"#8a8a8a","strokeWidth":1},"encoding":{"x2":{"field":"end"}}},
      {"data":{"name":"hg_lines"},"mark":{"type":"rule","color":"#a5a5a5","strokeWidth":3.5,"strokeDash":[1,6]},"encoding":{"x2":{"field":"end"}}},
      {"data":{"name":"hg_exons"},"mark":{"type":"tick","orient":"vertical","size":7,"thickness":2.6,"opacity":1},"encoding":{"color":{"field":"cat","type":"nominal","scale":{"domain":["gene","mirna","host","primary","neighbor"],"range":["#262626","#a0a0a0","#8f8f8f","#111111","#bdbdbd"]},"legend":null}}},
      {"data":{"name":"hg_scale"},"mark":{"type":"rule","color":"#444","strokeWidth":1},"encoding":{"x2":{"field":"end"}}},
      {"data":{"name":"hg_scale"},"mark":{"type":"tick","orient":"vertical","size":7,"thickness":1,"color":"#444","opacity":1}},
      {"data":{"name":"hg_scale"},"mark":{"type":"tick","orient":"vertical","size":7,"thickness":1,"color":"#444","opacity":1},"encoding":{"x":{"field":"end","type":"quantitative"}}},
      {"data":{"name":"hg_chr"},"mark":{"type":"tick","orient":"vertical","size":10,"thickness":1,"color":"#444","opacity":1}},
      {"data":{"name":"hg_arrows"},"mark":{"type":"rule","strokeWidth":2},"encoding":{"x2":{"field":"end"},"color":{"field":"cat","type":"nominal","legend":null}}},
      {"data":{"name":"hg_arrows"},"mark":{"type":"point","filled":true,"size":50,"opacity":1},"encoding":{"x":{"field":"end","type":"quantitative"},"shape":{"field":"dir","type":"nominal","scale":{"domain":["right","left"],"range":["triangle-right","triangle-left"]},"legend":null},"color":{"field":"cat","type":"nominal","legend":null}}},
      {"data":{"name":"hg_text"},"transform":[{"filter":"datum.role === 'gene' || datum.role === 'rulerR'"}],"mark":{"type":"text","align":"right","dx":-2,"baseline":"middle"},"encoding":{"text":{"field":"label"},"color":{"field":"cat","type":"nominal","legend":null}}},
      {"data":{"name":"hg_text"},"transform":[{"filter":"datum.role === 'rulerL'"}],"mark":{"type":"text","align":"left","dx":3,"baseline":"middle"},"encoding":{"text":{"field":"label"},"color":{"field":"cat","type":"nominal","legend":null}}},
      {"data":{"name":"hg_text"},"transform":[{"filter":"datum.role === 'center'"}],"mark":{"type":"text","align":"center","baseline":"middle"},"encoding":{"text":{"field":"label"},"color":{"field":"cat","type":"nominal","legend":null}}},
      {"data":{"name":"hg_text"},"transform":[{"filter":"datum.role === 'promoter'"}],"mark":{"type":"text","align":"center","baseline":"middle","fontWeight":"bold","fontSize":9},"encoding":{"text":{"field":"label"},"color":{"field":"cat","type":"nominal","legend":null}}},
      {"data":{"name":"hg_text"},"transform":[{"filter":"datum.role === 'species'"}],"mark":{"type":"text","align":"left","baseline":"middle","fontStyle":"italic"},"encoding":{"text":{"field":"label"},"color":{"field":"cat","type":"nominal","legend":null}}},
      {"data":{"name":"hg_text"},"transform":[{"filter":"datum.role === 'panel'"}],"mark":{"type":"text","align":"left","baseline":"middle","fontWeight":"bold","fontSize":12},"encoding":{"text":{"field":"label"},"color":{"field":"cat","type":"nominal","legend":null}}}
     ]
    },
    {"encoding":{
      "x":{"field":"pos","type":"quantitative","scale":{"domain":[124712127,124739096],"nice":false,"zero":false},"axis":null},
      "y":{"field":"lane","type":"quantitative","scale":{"domain":[0,20.7],"reverse":true,"nice":false,"zero":false},"axis":null}
     },
     "layer":[
      {"data":{"name":"mm_grid"},"mark":{"type":"rule","color":"#dedede","strokeWidth":0.8},"encoding":{"x":{"field":"data","type":"quantitative"},"y":{"datum":12.8},"y2":{"datum":20.2}}},
      {"data":{"name":"mm_lines"},"mark":{"type":"rule","color":"#8a8a8a","strokeWidth":1},"encoding":{"x2":{"field":"end"}}},
      {"data":{"name":"mm_lines"},"mark":{"type":"rule","color":"#a5a5a5","strokeWidth":3.5,"strokeDash":[1,6]},"encoding":{"x2":{"field":"end"}}},
      {"data":{"name":"mm_exons"},"mark":{"type":"tick","orient":"vertical","size":7,"thickness":2.6,"opacity":1},"encoding":{"color":{"field":"cat","type":"nominal","legend":null}}},
      {"data":{"name":"mm_scale"},"mark":{"type":"rule","color":"#444","strokeWidth":1},"encoding":{"x2":{"field":"end"}}},
      {"data":{"name":"mm_scale"},"mark":{"type":"tick","orient":"vertical","size":7,"thickness":1,"color":"#444","opacity":1}},
      {"data":{"name":"mm_scale"},"mark":{"type":"tick","orient":"vertical","size":7,"thickness":1,"color":"#444","opacity":1},"encoding":{"x":{"field":"end","type":"quantitative"}}},
      {"data":{"name":"mm_chr"},"mark":{"type":"tick","orient":"vertical","size":10,"thickness":1,"color":"#444","opacity":1}},
      {"data":{"name":"mm_arrows"},"mark":{"type":"rule","strokeWidth":2},"encoding":{"x2":{"field":"end"},"color":{"field":"cat","type":"nominal","legend":null}}},
      {"data":{"name":"mm_arrows"},"mark":{"type":"point","filled":true,"size":50,"opacity":1},"encoding":{"x":{"field":"end","type":"quantitative"},"shape":{"field":"dir","type":"nominal","legend":null},"color":{"field":"cat","type":"nominal","legend":null}}},
      {"data":{"name":"mm_text"},"transform":[{"filter":"datum.role === 'gene' || datum.role === 'rulerR'"}],"mark":{"type":"text","align":"right","dx":-2,"baseline":"middle"},"encoding":{"text":{"field":"label"},"color":{"field":"cat","type":"nominal","legend":null}}},
      {"data":{"name":"mm_text"},"transform":[{"filter":"datum.role === 'rulerL'"}],"mark":{"type":"text","align":"left","dx":3,"baseline":"middle"},"encoding":{"text":{"field":"label"},"color":{"field":"cat","type":"nominal","legend":null}}},
      {"data":{"name":"mm_text"},"transform":[{"filter":"datum.role === 'center'"}],"mark":{"type":"text","align":"center","baseline":"middle"},"encoding":{"text":{"field":"label"},"color":{"field":"cat","type":"nominal","legend":null}}},
      {"data":{"name":"mm_text"},"transform":[{"filter":"datum.role === 'species'"}],"mark":{"type":"text","align":"left","baseline":"middle","fontStyle":"italic"},"encoding":{"text":{"field":"label"},"color":{"field":"cat","type":"nominal","legend":null}}}
     ]
    }
   ],
   "resolve":{"scale":{"x":"independent"}}
  }
 ],"spacing":0,"bounds":"flush","resolve":{"scale":{"color":"independent","shape":"independent","fill":"independent","stroke":"independent"}}},

 {"width":1,"height":15,"data":{"values":[]},"mark":"point"},

 {"hconcat":[
  {"width":27,"height":1,"data":{"values":[]},"mark":"point","title":{"text":"b","anchor":"start","frame":"group","dx":3,"offset":23,"fontWeight":"bold","fontSize":12}},
  {"width":99,"height":91,"title":{"text":"SKOV3","offset":12},
   "data":{"name":"bdata"},"transform":[{"filter":"datum.cell === 'SKOV3'"}],
   "encoding":{
    "x":{"field":"t","type":"quantitative","scale":{"domain":[0,8],"nice":false,"zero":false},"axis":{"values":[2,4,6,8],"offset":4,"title":"Hours of H₂O₂ treatment"}},
    "y":{"field":"v","type":"quantitative","scale":{"domain":[0,6],"nice":false},"axis":{"values":[0,1,2,3,4,5,6]},"title":"Log₂ fold change"},
    "color":{"field":"s","type":"nominal","scale":{"domain":["pri-miR-200c-141","pri-PTPN6","pri-PHB2"],"range":["#141414","#6b6b6b","#c4c4c4"]},"legend":null}
   },
   "layer":[
    {"mark":{"type":"rule","strokeWidth":1},"encoding":{"y":{"field":"lo","type":"quantitative","title":"Log₂ fold change"},"y2":{"field":"hi"}}},
    {"mark":{"type":"tick","orient":"horizontal","size":5,"thickness":1,"opacity":1},"encoding":{"y":{"field":"lo","type":"quantitative","title":"Log₂ fold change"}}},
    {"mark":{"type":"tick","orient":"horizontal","size":5,"thickness":1,"opacity":1},"encoding":{"y":{"field":"hi","type":"quantitative","title":"Log₂ fold change"}}},
    {"mark":{"type":"line","strokeWidth":1.2}},
    {"mark":{"type":"point","filled":true,"size":14,"opacity":1},"encoding":{"shape":{"field":"s","type":"nominal","scale":{"domain":["pri-miR-200c-141","pri-PTPN6","pri-PHB2"],"range":["circle","square","triangle-up"]},"legend":null}}}
   ]
  },
  {"width":38,"height":1,"data":{"values":[]},"mark":"point"},
  {"width":100,"height":91,"title":{"text":"OVCA433","offset":12},
   "data":{"name":"bdata"},"transform":[{"filter":"datum.cell === 'OVCA433'"}],
   "encoding":{
    "x":{"field":"t","type":"quantitative","scale":{"domain":[0,8],"nice":false,"zero":false},"axis":{"values":[2,4,6,8],"offset":4,"title":"Hours of H₂O₂ treatment"}},
    "y":{"field":"v","type":"quantitative","scale":{"domain":[0,8.31],"nice":false},"axis":{"values":[0,2,4,6,8]},"title":"Log₂ fold change"},
    "color":{"field":"s","type":"nominal","scale":{"domain":["pri-miR-200c-141","pri-PTPN6","pri-PHB2"],"range":["#141414","#6b6b6b","#c4c4c4"]},"legend":null}
   },
   "layer":[
    {"mark":{"type":"rule","strokeWidth":1},"encoding":{"y":{"field":"lo","type":"quantitative","title":"Log₂ fold change"},"y2":{"field":"hi"}}},
    {"mark":{"type":"tick","orient":"horizontal","size":5,"thickness":1,"opacity":1},"encoding":{"y":{"field":"lo","type":"quantitative","title":"Log₂ fold change"}}},
    {"mark":{"type":"tick","orient":"horizontal","size":5,"thickness":1,"opacity":1},"encoding":{"y":{"field":"hi","type":"quantitative","title":"Log₂ fold change"}}},
    {"mark":{"type":"line","strokeWidth":1.2}},
    {"mark":{"type":"point","filled":true,"size":14,"opacity":1},"encoding":{"shape":{"field":"s","type":"nominal","scale":{"domain":["pri-miR-200c-141","pri-PTPN6","pri-PHB2"],"range":["circle","square","triangle-up"]},"legend":null}}}
   ]
  },
  {"width":48,"height":1,"data":{"values":[]},"mark":"point"},
  {"width":98,"height":91,"title":{"text":"WI38","offset":12},
   "data":{"name":"bdata"},"transform":[{"filter":"datum.cell === 'WI38'"}],
   "encoding":{
    "x":{"field":"t","type":"quantitative","scale":{"domain":[0,8],"nice":false,"zero":false},"axis":{"values":[2,4,6,8],"offset":4,"title":"Hours of H₂O₂ treatment"}},
    "y":{"field":"v","type":"quantitative","scale":{"domain":[0,10.83],"nice":false},"axis":{"values":[0,2,4,6,8,10]},"title":"Log₂ fold change"},
    "color":{"field":"s","type":"nominal","scale":{"domain":["pri-miR-200c-141","pri-PTPN6","pri-PHB2"],"range":["#141414","#6b6b6b","#c4c4c4"]},"legend":null}
   },
   "layer":[
    {"mark":{"type":"rule","strokeWidth":1},"encoding":{"y":{"field":"lo","type":"quantitative","title":"Log₂ fold change"},"y2":{"field":"hi"}}},
    {"mark":{"type":"tick","orient":"horizontal","size":5,"thickness":1,"opacity":1},"encoding":{"y":{"field":"lo","type":"quantitative","title":"Log₂ fold change"}}},
    {"mark":{"type":"tick","orient":"horizontal","size":5,"thickness":1,"opacity":1},"encoding":{"y":{"field":"hi","type":"quantitative","title":"Log₂ fold change"}}},
    {"mark":{"type":"line","strokeWidth":1.2}},
    {"mark":{"type":"point","filled":true,"size":14,"opacity":1},"encoding":{"shape":{"field":"s","type":"nominal","scale":{"domain":["pri-miR-200c-141","pri-PTPN6","pri-PHB2"],"range":["circle","square","triangle-up"]},"legend":null}}}
   ]
  },
  {"width":38,"height":1,"data":{"values":[]},"mark":"point"},
  {"width":97,"height":91,"title":{"text":"MRC5","offset":10},
   "data":{"name":"bdata"},"transform":[{"filter":"datum.cell === 'MRC5'"}],
   "encoding":{
    "x":{"field":"t","type":"quantitative","scale":{"domain":[0,8],"nice":false,"zero":false},"axis":{"values":[2,4,6,8],"offset":4,"title":"Hours of H₂O₂ treatment"}},
    "y":{"field":"v","type":"quantitative","scale":{"domain":[0,10.7],"nice":false},"axis":{"values":[0,2,4,6,8,10]},"title":"Log₂ fold change"},
    "color":{"field":"s","type":"nominal","scale":{"domain":["pri-miR-200c-141","pri-PTPN6","pri-PHB2"],"range":["#141414","#6b6b6b","#c4c4c4"]},"legend":{"orient":"none","legendX":3,"legendY":-6,"title":null,"labelFontStyle":"italic","labelFontSize":8.5,"symbolSize":16,"rowPadding":1.5,"labelOffset":5,"padding":0}}
   },
   "layer":[
    {"mark":{"type":"rule","strokeWidth":1},"encoding":{"y":{"field":"lo","type":"quantitative","title":"Log₂ fold change"},"y2":{"field":"hi"}}},
    {"mark":{"type":"tick","orient":"horizontal","size":5,"thickness":1,"opacity":1},"encoding":{"y":{"field":"lo","type":"quantitative","title":"Log₂ fold change"}}},
    {"mark":{"type":"tick","orient":"horizontal","size":5,"thickness":1,"opacity":1},"encoding":{"y":{"field":"hi","type":"quantitative","title":"Log₂ fold change"}}},
    {"mark":{"type":"line","strokeWidth":1.2}},
    {"mark":{"type":"point","filled":true,"size":14,"opacity":1},"encoding":{"shape":{"field":"s","type":"nominal","scale":{"domain":["pri-miR-200c-141","pri-PTPN6","pri-PHB2"],"range":["circle","square","triangle-up"]},"legend":{"orient":"none","legendX":3,"legendY":-6,"title":null,"labelFontStyle":"italic","labelFontSize":8.5,"symbolSize":16,"rowPadding":1.5,"labelOffset":5,"padding":0}}}}
   ]
  },
  {"width":38,"height":1,"data":{"values":[]},"mark":"point"},
  {"width":99,"height":91,"title":{"text":"Mouse fibroblasts","offset":3},
   "data":{"name":"bdata"},"transform":[{"filter":"datum.cell === 'Mouse'"}],
   "encoding":{
    "x":{"field":"t","type":"quantitative","scale":{"domain":[0,8],"nice":false,"zero":false},"axis":{"values":[2,4,6,8],"offset":4,"title":"Hours of H₂O₂ treatment"}},
    "y":{"field":"v","type":"quantitative","scale":{"domain":[0,4.155],"nice":false},"axis":{"values":[0,1,2,3,4]},"title":"Log₂ fold change"},
    "color":{"field":"s","type":"nominal","scale":{"domain":["pri-miR-200c-141","pri-Ptpn6","pri-Phb2"],"range":["#141414","#6b6b6b","#c4c4c4"]},"legend":{"orient":"none","legendX":5,"legendY":-13,"title":null,"labelFontStyle":"italic","labelFontSize":8.5,"symbolSize":16,"rowPadding":0.5,"labelOffset":5,"padding":0}}
   },
   "layer":[
    {"mark":{"type":"rule","strokeWidth":1},"encoding":{"y":{"field":"lo","type":"quantitative","title":"Log₂ fold change"},"y2":{"field":"hi"}}},
    {"mark":{"type":"tick","orient":"horizontal","size":5,"thickness":1,"opacity":1},"encoding":{"y":{"field":"lo","type":"quantitative","title":"Log₂ fold change"}}},
    {"mark":{"type":"tick","orient":"horizontal","size":5,"thickness":1,"opacity":1},"encoding":{"y":{"field":"hi","type":"quantitative","title":"Log₂ fold change"}}},
    {"mark":{"type":"line","strokeWidth":1.2}},
    {"mark":{"type":"point","filled":true,"size":14,"opacity":1},"encoding":{"shape":{"field":"s","type":"nominal","scale":{"domain":["pri-miR-200c-141","pri-Ptpn6","pri-Phb2"],"range":["circle","square","triangle-up"]},"legend":{"orient":"none","legendX":5,"legendY":-13,"title":null,"labelFontStyle":"italic","labelFontSize":8.5,"symbolSize":16,"rowPadding":0.5,"labelOffset":5,"padding":0}}}}
   ]
  }
 ],"spacing":0,"bounds":"flush","resolve":{"scale":{"color":"independent","shape":"independent","fill":"independent","stroke":"independent"}}},

 {"width":1,"height":14,"data":{"values":[]},"mark":"point"},

 {"hconcat":[
  {"width":70,"height":1,"data":{"values":[]},"mark":"point","title":{"text":"c","anchor":"start","frame":"group","dx":47,"offset":4,"fontWeight":"bold","fontSize":12}},
  {"width":253,"height":125,
   "data":{"name":"cdata"},
   "encoding":{
    "x":{"field":"treat","type":"nominal","sort":["MSB","Arsenic","Sorbitol","H₂O₂"],"scale":{"paddingInner":0.274,"paddingOuter":0.161},"axis":{"title":null,"labelAngle":0,"ticks":false,"labelPadding":6,"labelFontSize":9}},
    "xOffset":{"field":"s","type":"nominal","sort":["pri-miR-200c-141","pri-Ptpn6","pri-Phb2"],"scale":{"paddingInner":0.28,"paddingOuter":0}},
    "y":{"field":"v","type":"quantitative","scale":{"domain":[0,15],"nice":false},"axis":{"values":[0,5,10,15],"labelFontSize":9,"titleFontSize":9,"titlePadding":6},"title":"Fold change"}
   },
   "layer":[
    {"mark":{"type":"bar","stroke":"#1a1a1a","strokeWidth":0.8},"encoding":{"fill":{"field":"s","type":"nominal","scale":{"domain":["pri-miR-200c-141","pri-Ptpn6","pri-Phb2"],"range":["#1e1e1e","#6a6a6a","#c9c9c9"]},"legend":{"orient":"none","legendX":243,"legendY":3,"title":null,"symbolType":"square","symbolSize":110,"symbolStrokeColor":"#1a1a1a","symbolStrokeWidth":0.8,"labelFontStyle":"italic","labelFontSize":9,"rowPadding":3.5,"labelOffset":5,"padding":0}}}},
    {"mark":{"type":"rule","color":"#1a1a1a","strokeWidth":1},"encoding":{"y":{"field":"v","type":"quantitative","title":"Fold change"},"y2":{"field":"err"}}},
    {"mark":{"type":"tick","orient":"horizontal","size":7,"thickness":1,"color":"#1a1a1a","opacity":1},"encoding":{"y":{"field":"err","type":"quantitative","title":"Fold change"}}}
   ]
  },
  {"width":150,"height":1,"data":{"values":[]},"mark":"point","title":{"text":"d","anchor":"start","frame":"group","dx":120,"offset":4,"fontWeight":"bold","fontSize":12}},
  {"width":118,"height":127,
   "encoding":{
    "x":{"field":"x","type":"quantitative","scale":{"domain":[-6.72,6],"nice":false,"zero":false},"axis":{"values":[-6,-2,2,6],"offset":2,"titlePadding":5},"title":"pri-miR-200c-141 (ΔΔCt)"},
    "y":{"field":"y","type":"quantitative","scale":{"domain":[-6,6.56],"nice":false,"zero":false},"axis":{"values":[-6,-2,2,6],"titlePadding":4},"title":"pri-PTPN6 (ΔΔCt)"}
   },
   "layer":[
    {"data":{"name":"ddata"},"mark":{"type":"point","filled":true,"size":26,"strokeWidth":1,"opacity":1},"encoding":{
      "shape":{"field":"type","type":"nominal","scale":{"domain":["Ovarian","Breast"],"range":["triangle-down","circle"]},"legend":{"orient":"none","legendX":120,"legendY":5,"title":null,"labelFontSize":9.5,"symbolSize":26,"symbolStrokeWidth":1,"rowPadding":3,"labelOffset":3,"padding":0}},
      "fill":{"field":"type","type":"nominal","scale":{"domain":["Ovarian","Breast"],"range":["#111111","#ffffff"]},"legend":{"orient":"none","legendX":120,"legendY":5,"title":null,"labelFontSize":9.5,"symbolSize":26,"symbolStrokeWidth":1,"rowPadding":3,"labelOffset":3,"padding":0}},
      "stroke":{"field":"type","type":"nominal","scale":{"domain":["Ovarian","Breast"],"range":["#111111","#111111"]},"legend":{"orient":"none","legendX":120,"legendY":5,"title":null,"labelFontSize":9.5,"symbolSize":26,"symbolStrokeWidth":1,"rowPadding":3,"labelOffset":3,"padding":0}}}},
    {"data":{"values":[{"x":-6.43,"y":5.57,"l":"ρ"},{"x":-6.43,"y":4.29,"l":"P"}]},"mark":{"type":"text","align":"left","baseline":"middle","fontStyle":"italic","fontSize":9},"encoding":{"text":{"field":"l"}}},
    {"data":{"values":[{"x":-6.43,"y":5.57,"l":"= 0.79"}]},"mark":{"type":"text","align":"left","baseline":"middle","dx":9,"fontSize":9},"encoding":{"text":{"field":"l"}}},
    {"data":{"values":[{"x":-6.43,"y":4.29,"l":"-value = 0.0003"}]},"mark":{"type":"text","align":"left","baseline":"middle","dx":6,"fontSize":9},"encoding":{"text":{"field":"l"}}}
   ]
  }
 ],"spacing":0,"bounds":"flush","resolve":{"scale":{"color":"independent","shape":"independent","fill":"independent","stroke":"independent"}}},

 {"width":1,"height":10,"data":{"values":[]},"mark":"point"},

 {"hconcat":[
  {"width":73,"height":1,"data":{"values":[]},"mark":"point","title":{"text":"e","anchor":"start","frame":"group","dx":47,"offset":21,"fontWeight":"bold","fontSize":12}},
  {"width":105,"height":106,"title":{"text":"NCI-60 panel","offset":9},
   "encoding":{
    "x":{"field":"x","type":"quantitative","scale":{"domain":[0,15],"nice":false,"zero":false},"axis":{"values":[0,5,10,15],"offset":2,"titlePadding":4},"title":"miR-200c (log)"},
    "y":{"field":"y","type":"quantitative","scale":{"domain":[0,8],"nice":false,"zero":false},"axis":{"values":[0,2,4,6,8],"titlePadding":5},"title":"PTPN6 (log)"}
   },
   "layer":[
    {"data":{"name":"e1"},"mark":{"type":"point","filled":true,"size":7,"color":"#111","opacity":1}},
    {"data":{"values":[{"x":0.67,"y":7.32,"l":"ρ"},{"x":0.67,"y":6.42,"l":"P"}]},"mark":{"type":"text","align":"left","baseline":"middle","fontStyle":"italic","fontSize":9},"encoding":{"text":{"field":"l"}}},
    {"data":{"values":[{"x":0.67,"y":7.32,"l":"= 0.67"}]},"mark":{"type":"text","align":"left","baseline":"middle","dx":9,"fontSize":9},"encoding":{"text":{"field":"l"}}},
    {"data":{"values":[{"x":0.67,"y":6.42,"l":"-value = 4e−7"}]},"mark":{"type":"text","align":"left","baseline":"middle","dx":6,"fontSize":9},"encoding":{"text":{"field":"l"}}}
   ]
  },
  {"width":42,"height":1,"data":{"values":[]},"mark":"point"},
  {"width":105,"height":106,"title":{"text":"NCI-60 panel","offset":9},
   "encoding":{
    "x":{"field":"x","type":"quantitative","scale":{"domain":[0,15],"nice":false,"zero":false},"axis":{"values":[0,5,10,15],"offset":2,"titlePadding":4},"title":"miR-141(log)"},
    "y":{"field":"y","type":"quantitative","scale":{"domain":[0,8],"nice":false,"zero":false},"axis":{"values":[0,2,4,6,8],"titlePadding":5},"title":"PTPN6 (log)"}
   },
   "layer":[
    {"data":{"name":"e2"},"mark":{"type":"point","filled":true,"size":7,"color":"#111","opacity":1}},
    {"data":{"values":[{"x":1.1,"y":7.32,"l":"ρ"},{"x":1.1,"y":6.42,"l":"P"}]},"mark":{"type":"text","align":"left","baseline":"middle","fontStyle":"italic","fontSize":9},"encoding":{"text":{"field":"l"}}},
    {"data":{"values":[{"x":1.1,"y":7.32,"l":"= 0.76"}]},"mark":{"type":"text","align":"left","baseline":"middle","dx":9,"fontSize":9},"encoding":{"text":{"field":"l"}}},
    {"data":{"values":[{"x":1.1,"y":6.42,"l":"-value = 3e−5"}]},"mark":{"type":"text","align":"left","baseline":"middle","dx":6,"fontSize":9},"encoding":{"text":{"field":"l"}}}
   ]
  },
  {"width":62,"height":1,"data":{"values":[]},"mark":"point","title":{"text":"f","anchor":"start","frame":"group","dx":42,"offset":21,"fontWeight":"bold","fontSize":12}},
  {"width":114,"height":106,"title":{"text":"Sanger cell line project","offset":9},
   "encoding":{
    "x":{"field":"x","type":"quantitative","scale":{"domain":[2.83,15],"nice":false,"zero":false},"axis":{"values":[5,10,15],"offset":1,"titlePadding":4},"title":"miR-200c (log)"},
    "y":{"field":"y","type":"quantitative","scale":{"domain":[4,10],"nice":false,"zero":false},"axis":{"values":[4,6,8,10],"titlePadding":5},"title":"PTPN6 (log)"}
   },
   "layer":[
    {"data":{"name":"f1"},"mark":{"type":"point","filled":true,"size":4.5,"color":"#111","opacity":1}},
    {"data":{"values":[{"x":3.87,"y":9.49,"l":"ρ"},{"x":3.87,"y":8.75,"l":"P"}]},"mark":{"type":"text","align":"left","baseline":"middle","fontStyle":"italic","fontSize":9},"encoding":{"text":{"field":"l"}}},
    {"data":{"values":[{"x":3.87,"y":9.49,"l":"= 0.63"}]},"mark":{"type":"text","align":"left","baseline":"middle","dx":9,"fontSize":9},"encoding":{"text":{"field":"l"}}},
    {"data":{"values":[{"x":3.87,"y":8.75,"l":"-value = 3e−48"}]},"mark":{"type":"text","align":"left","baseline":"middle","dx":6,"fontSize":9},"encoding":{"text":{"field":"l"}}}
   ]
  },
  {"width":43,"height":1,"data":{"values":[]},"mark":"point"},
  {"width":108,"height":106,"title":{"text":"Sanger cell line project","offset":9},
   "encoding":{
    "x":{"field":"x","type":"quantitative","scale":{"domain":[3.35,15],"nice":false,"zero":false},"axis":{"values":[5,10,15],"offset":1,"titlePadding":4},"title":"miR-141 (log)"},
    "y":{"field":"y","type":"quantitative","scale":{"domain":[4,10],"nice":false,"zero":false},"axis":{"values":[4,6,8,10],"titlePadding":5},"title":"PTPN6 (log)"}
   },
   "layer":[
    {"data":{"name":"f2"},"mark":{"type":"point","filled":true,"size":4.5,"color":"#111","opacity":1}},
    {"data":{"values":[{"x":4.32,"y":9.49,"l":"ρ"},{"x":4.32,"y":8.75,"l":"P"}]},"mark":{"type":"text","align":"left","baseline":"middle","fontStyle":"italic","fontSize":9},"encoding":{"text":{"field":"l"}}},
    {"data":{"values":[{"x":4.32,"y":9.49,"l":"= 0.59"}]},"mark":{"type":"text","align":"left","baseline":"middle","dx":9,"fontSize":9},"encoding":{"text":{"field":"l"}}},
    {"data":{"values":[{"x":4.32,"y":8.75,"l":"-value = 1e−30"}]},"mark":{"type":"text","align":"left","baseline":"middle","dx":6,"fontSize":9},"encoding":{"text":{"field":"l"}}}
   ]
  }
 ],"spacing":0,"bounds":"flush","resolve":{"scale":{"color":"independent","shape":"independent","fill":"independent","stroke":"independent"}}}
],
"spacing":0,
"bounds":"full",
"resolve":{"scale":{"color":"independent","shape":"independent","fill":"independent","stroke":"independent"}}
}
